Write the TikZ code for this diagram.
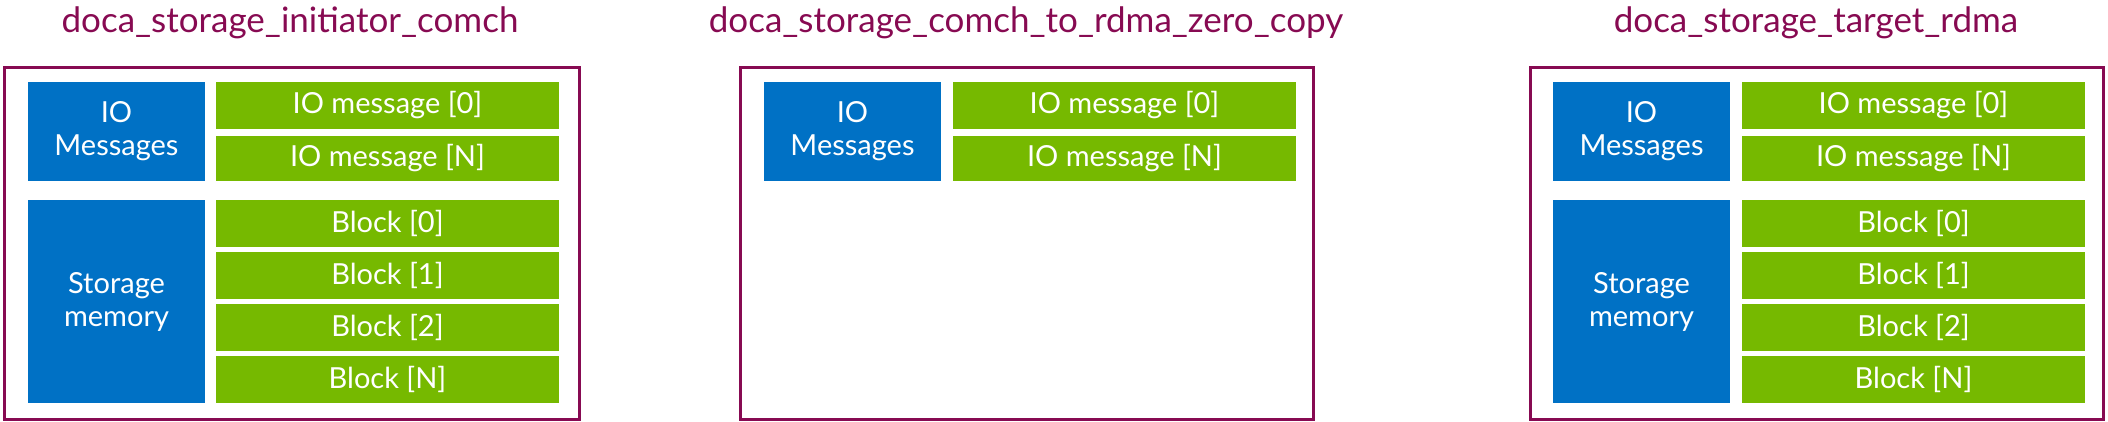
\documentclass[tikz,border=0pt]{standalone}
\usepackage{fontspec}
\setmainfont{Lato}
\definecolor{nvblue}{HTML}{0071C5}
\definecolor{nvgreen}{HTML}{76B900}
\definecolor{nvpurple}{HTML}{870A52}
\begin{document}
\begin{tikzpicture}[x=1pt,y=-1pt,
  frame/.style={draw=nvpurple,line width=3pt},
  bl/.style={fill=nvblue,text=white,align=center,font=\fontsize{29}{33}\selectfont},
  gr/.style={fill=nvgreen,text=white,font=\fontsize{29}{33}\selectfont},
  ttl/.style={text=nvpurple,font=\fontsize{35}{40}\selectfont,anchor=base}]
\useasboundingbox (0,0) rectangle (2108,421);
\newcommand\boxr[5]{\fill[#1] (#2,#3) rectangle (#4,#5);}
% titles
\node[ttl] (t1) at (290,32) {doca\_storage\_initiator\_comch};
\node[ttl] (t2) at (1026,32) {doca\_storage\_comch\_to\_rdma\_zero\_copy};
\node[ttl] (t3) at (1816,32) {doca\_storage\_target\_rdma};
% frames
\draw[frame] (4,67) rectangle (579,419);
\draw[frame] (740,67) rectangle (1313,419);
\draw[frame] (1530,67) rectangle (2103,419);
% left and right full stacks
\foreach \bx/\gx in {28/216, 1553/1742}{
  \fill[nvblue] (\bx,82) rectangle ++(177,99);
  \node[text=white,align=center,font=\fontsize{29}{33}\selectfont] at (\bx+88.5,131.5) {IO\\Messages};
  \fill[nvblue] (\bx,200) rectangle ++(177,203);
  \node[text=white,align=center,font=\fontsize{29}{33}\selectfont] at (\bx+88.5,301.5) {Storage\\memory};
  \fill[nvgreen] (\gx,82) rectangle ++(343,47);
  \node[text=white,font=\fontsize{29}{33}\selectfont] at (\gx+171.5,105.5) {IO message [0]};
  \fill[nvgreen] (\gx,136) rectangle ++(343,45);
  \node[text=white,font=\fontsize{29}{33}\selectfont] at (\gx+171.5,158.5) {IO message [N]};
  \foreach \y/\t in {200/0,252/1,304/2,356/N}{
    \fill[nvgreen] (\gx,\y) rectangle ++(343,47);
    \node[text=white,font=\fontsize{29}{33}\selectfont] at (\gx+171.5,\y+23.5) {Block [\t]};
  }
}
% middle
\fill[nvblue] (764,82) rectangle ++(177,99);
\node[text=white,align=center,font=\fontsize{29}{33}\selectfont] (m1) at (852.5,131.5) {IO\\Messages};
\fill[nvgreen] (953,82) rectangle ++(343,47);
\node[text=white,font=\fontsize{29}{33}\selectfont] (m2) at (1124.5,105.5) {IO message [0]};
\fill[nvgreen] (953,136) rectangle ++(343,45);
\node[text=white,font=\fontsize{29}{33}\selectfont] (m3) at (1124.5,158.5) {IO message [N]};
\end{tikzpicture}
\end{document}
